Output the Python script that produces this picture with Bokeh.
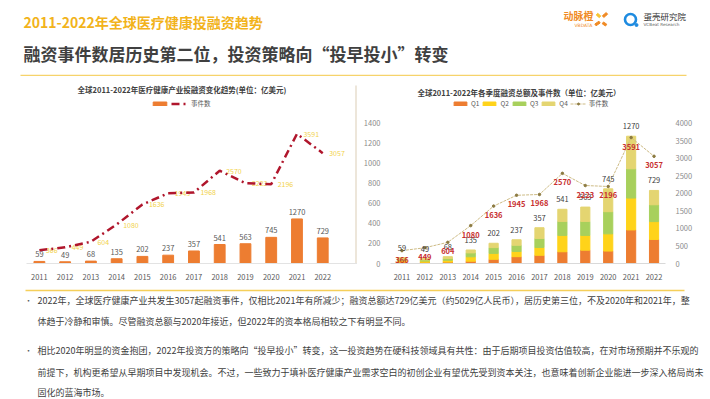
from bokeh.plotting import figure
from bokeh.models import Range1d, LinearAxis, FixedTicker, Legend, LegendItem, ColumnDataSource
from bokeh.layouts import column, row
from bokeh.core.properties import value
from bokeh.embed import file_html
from bokeh.resources import INLINE

FONT = "Noto Sans CJK SC"

# ---------------- data ----------------
years = ["2011", "2012", "2013", "2014", "2015", "2016", "2017", "2018", "2019", "2020", "2021", "2022"]
amount = [59, 49, 68, 135, 202, 237, 357, 541, 563, 745, 1270, 729]
events = [366, 449, 604, 1080, 1636, 1945, 1968, 2570, 2223, 2196, 3591, 3057]
q1 = [15, 12, 14, 23, 42, 68, 82, 117, 133, 124, 335, 240]
q2 = [14, 12, 18, 44, 59, 52, 78, 163, 147, 172, 318, 178]
q3 = [15, 12, 17, 39, 58, 62, 90, 140, 140, 221, 292, 168]
q4 = [15, 13, 19, 29, 43, 55, 107, 121, 143, 228, 325, 143]
left_ticks = [0, 200, 400, 600, 800, 1000, 1200, 1400]
right_ticks = [0, 500, 1000, 1500, 2000, 2500, 3000, 3500, 4000]
quarters = ["Q1", "Q2", "Q3", "Q4"]
event_name = "事件数"

title1 = "2011-2022年全球医疗健康投融资趋势"
title2 = "融资事件数居历史第二位，投资策略向“投早投小”转变"
chart1_title = "全球2011-2022年医疗健康产业投融资变化趋势(单位：亿美元)"
chart2_title = "全球2011-2022年各季度融资总额及事件数（单位：亿美元）"
para1 = ["2022年，全球医疗健康产业共发生3057起融资事件，仅相比2021年有所减少；融资总额达729亿美元（约5029亿人民币），居历史第三位，不及2020年和2021年，整",
         "体趋于冷静和审慎。尽管融资总额与2020年接近，但2022年的资本格局相较之下有明显不同。"]
para2 = ["相比2020年明显的资金抱团，2022年投资方的策略向“投早投小”转变，这一投资趋势在硬科技领域具有共性：由于后期项目投资估值较高，在对市场预期并不乐观的",
         "前提下，机构更希望从早期项目中发现机会。不过，一些致力于填补医疗健康产业需求空白的初创企业有望优先受到资本关注，也意味着创新企业能进一步深入格局尚未",
         "固化的蓝海市场。"]

Q_COLORS = ["#ED7D31", "#FFD31A", "#A8D05C", "#E4D571"]

xs = list(range(len(years)))
src = ColumnDataSource(dict(
    x=xs, amount=amount, events=events, q1=q1, q2=q2, q3=q3, q4=q4,
    amount_s=[str(v) for v in amount], events_s=[str(v) for v in events]))


def base_fig(**kw):
    p = figure(toolbar_location=None, output_backend="svg", **kw)
    p.outline_line_color = None
    p.grid.visible = False
    p.background_fill_color = "white"
    p.border_fill_color = "white"
    return p


# ---------------- header ----------------
hdr = base_fig(width=710, height=76, x_range=Range1d(0, 710), y_range=Range1d(76, 0),
               min_border=0, x_axis_location=None, y_axis_location=None)
hdr.text(x=[23], y=[21], text=[title1], text_font=value(FONT), text_font_size="14px",
         text_font_style="bold", text_color="#F2B31B", text_baseline="middle")
hdr.text(x=[23], y=[53], text=[title2], text_font=value(FONT), text_font_size="17px",
         text_font_style="bold", text_color="#404040", text_baseline="middle")
# logos
hdr.text(x=[563], y=[15], text=["动脉橙"], text_font=value(FONT), text_font_size="10px",
         text_font_style="bold", text_color="#F08A24", text_baseline="middle")
hdr.text(x=[574], y=[25], text=["VBDATA"], text_font=value("DejaVu Sans"), text_font_size="4.5px",
         text_color="#F08A24", text_baseline="middle")
hdr.rect(x=[598, 604.5, 597, 604], y=[15, 14.5, 23, 23.5], width=[4, 5, 5, 4], height=[2.2, 2.2, 2.2, 2.2],
         angle=[-0.7, 0.7, 0.6, -0.6], color=["#F7C531", "#F08A24", "#F08A24", "#F08A24"])
hdr.scatter(x=[630], y=[19], size=11, marker="circle", fill_color=None, line_color="#1E8BE0", line_width=2.6)
hdr.scatter(x=[636], y=[24.5], size=3, marker="circle", color="#1E8BE0")
hdr.text(x=[643], y=[15], text=["蛋壳研究院"], text_font=value(FONT), text_font_size="8.5px",
         text_color="#333333", text_baseline="middle")
hdr.text(x=[643], y=[23.5], text=["VCBeat Research"], text_font=value("DejaVu Sans"), text_font_size="4.2px",
         text_color="#666666", text_baseline="middle")
hdr.segment(x0=[20], y0=[75], x1=[686], y1=[75], line_color="#F6D36B", line_width=1.6)

# ---------------- left chart ----------------
L_PX = 25.76          # px per category
L_BASE = 187          # frame height in px
L_BAR = 0.0351        # px per unit (bars)
L_EV = 0.0361         # px per unit (events)
L_W = 357
L_BL = 26
left = base_fig(width=L_W, height=208,
                x_range=Range1d(-0.5, -0.5 + (L_W - L_BL) / L_PX),
                y_range=Range1d(0, L_BASE / L_BAR),
                min_border_left=L_BL, min_border_right=0, min_border_top=0, min_border_bottom=21,
                y_axis_location=None)
left.extra_y_ranges = {"ev": Range1d(0, L_BASE / L_EV)}
left.xaxis.ticker = FixedTicker(ticks=xs)
left.xaxis.major_label_overrides = {i: y for i, y in enumerate(years)}
left.xaxis.major_tick_line_color = None
left.xaxis.minor_tick_line_color = None
left.xaxis.axis_line_color = "#E3E3E3"
left.xaxis.major_label_standoff = 4
left.xaxis.major_label_text_font = FONT
left.xaxis.major_label_text_font_size = "7.5px"
left.xaxis.major_label_text_color = "#595959"


def lx(px):  # page px -> left chart x
    return -0.5 + (px - L_BL) / L_PX


def ly(py):  # page px -> left chart y
    return (263 - py) / L_BAR


bars_l = left.vbar(x="x", top="amount", width=0.42, color="#ED7D31", source=src)
left.text(x="x", y="amount", text="amount_s", source=src, y_offset=-7, text_align="center",
          text_baseline="middle", text_font=value(FONT), text_font_size="7.5px", text_color="#595959")
left.text(x="x", y="events", text="events_s", source=src, y_range_name="ev", x_offset=6.5,
          text_align="left", text_baseline="middle", text_font=value(FONT), text_font_size="7px",
          text_color="#F2D24A")
line_l = left.line(x="x", y="events", source=src, y_range_name="ev", line_color="#B0162C",
                   line_width=2.5, line_dash="8 4 2 4")
left.text(x=[lx(181.5)], y=[ly(89)], text=[chart1_title], text_font=value(FONT), text_font_size="7.5px",
          text_font_style="bold", text_color="#404040", text_align="center", text_baseline="middle")
left.segment(x0=[lx(355.5)], y0=[ly(85)], x1=[lx(355.5)], y1=[0], line_color="#EDE6DA", line_width=2)
leg_l = Legend(items=[LegendItem(label=" ", renderers=[bars_l]), LegendItem(label=event_name, renderers=[line_l])],
               location=(125, 155), orientation="horizontal", glyph_width=17, glyph_height=5,
               label_height=8, label_width=0, label_standoff=3, spacing=0, padding=0, margin=0,
               border_line_color=None, background_fill_alpha=0,
               label_text_font=FONT, label_text_font_size="6.5px", label_text_color="#595959")
left.add_layout(leg_l)

# ---------------- right chart ----------------
R_W = 353
R_BL = 33
R_BR = 45
R_H = 191
R_SCALE = 143.3 / 1400.0   # px per unit (left axis)
right = base_fig(width=R_W, height=208, x_range=Range1d(-0.5, 11.5),
                 y_range=Range1d(0, R_H / R_SCALE),
                 min_border_left=R_BL, min_border_right=R_BR, min_border_top=0, min_border_bottom=17)
right.extra_y_ranges = {"ev": Range1d(0, R_H / (143.3 / 4000.0))}
rax = LinearAxis(y_range_name="ev", ticker=FixedTicker(ticks=right_ticks))
right.add_layout(rax, "right")
right.yaxis[0].ticker = FixedTicker(ticks=left_ticks)
for ax in right.yaxis:
    ax.axis_line_color = None
    ax.major_tick_line_color = None
    ax.minor_tick_line_color = None
    ax.major_label_text_font = FONT
    ax.major_label_text_font_size = "7.5px"
    ax.major_label_text_color = "#8C8C8C"
    ax.major_label_standoff = 4
right.xaxis.ticker = FixedTicker(ticks=xs)
right.xaxis.major_label_overrides = {i: y for i, y in enumerate(years)}
right.xaxis.major_tick_line_color = None
right.xaxis.minor_tick_line_color = None
right.xaxis.axis_line_color = "#D9D9D9"
right.xaxis.major_label_standoff = 4
right.xaxis.major_label_text_font = FONT
right.xaxis.major_label_text_font_size = "7.5px"
right.xaxis.major_label_text_color = "#595959"

R_PX = (R_W - R_BL - R_BR) / 12.0


def rx(px):
    return -0.5 + (px - 357 - R_BL) / R_PX


def ry(py):
    return (267 - py) / R_SCALE


stack = right.vbar_stack(["q1", "q2", "q3", "q4"], x="x", width=0.4, color=Q_COLORS, source=src)
line_r = right.line(x="x", y="events", source=src, y_range_name="ev", line_color="#CDBB85",
                    line_width=1, line_dash="3 1")
pts_r = right.scatter(x="x", y="events", source=src, y_range_name="ev", size=2.5, color="#8C7A40")
right.text(x="x", y="amount", text="amount_s", source=src, y_offset=-10, text_align="center",
           text_baseline="middle", text_font=value(FONT), text_font_size="7.5px", text_color="#404040")
right.text(x="x", y="events", text="events_s", source=src, y_range_name="ev", y_offset=9,
           text_align="center", text_baseline="middle", text_font=value(FONT), text_font_size="7.5px",
           text_font_style="bold", text_color="#C8302F")
right.text(x=[rx(518.5)], y=[ry(92.3)], text=[chart2_title], text_font=value(FONT), text_font_size="7.5px",
           text_font_style="bold", text_color="#404040", text_align="center", text_baseline="middle")
items = [LegendItem(label=q, renderers=[r]) for q, r in zip(quarters, stack)]
items.append(LegendItem(label=event_name, renderers=[line_r, pts_r]))
leg_r = Legend(items=items, location=(62, 155), orientation="horizontal", glyph_width=16, glyph_height=5,
               label_height=8, label_width=0, label_standoff=3, spacing=2, padding=0, margin=0,
               border_line_color=None, background_fill_alpha=0,
               label_text_font=FONT, label_text_font_size="6.5px", label_text_color="#595959")
right.add_layout(leg_r)

# ---------------- footer ----------------
ftr = base_fig(width=710, height=115, x_range=Range1d(0, 710), y_range=Range1d(399, 284),
               min_border=0, x_axis_location=None, y_axis_location=None)
ftr.segment(x0=[25], y0=[290], x1=[684], y1=[290], line_color="#F5CF5A", line_width=1.5)
ftr.text(x=[24, 24], y=[300, 350], text=["•", "•"], text_font=value(FONT), text_font_size="8px",
         text_color="#595959", text_baseline="middle")
ftr.text(x=[37] * 2, y=[300, 321], text=para1, text_font=value(FONT), text_font_size="9px",
         text_color="#404040", text_baseline="middle")
ftr.text(x=[37] * 3, y=[350, 371.5, 392], text=para2, text_font=value(FONT), text_font_size="9px",
         text_color="#404040", text_baseline="middle")

layout = column(hdr, row(left, right), ftr)
open("out.html", "w").write(file_html(layout, INLINE))
